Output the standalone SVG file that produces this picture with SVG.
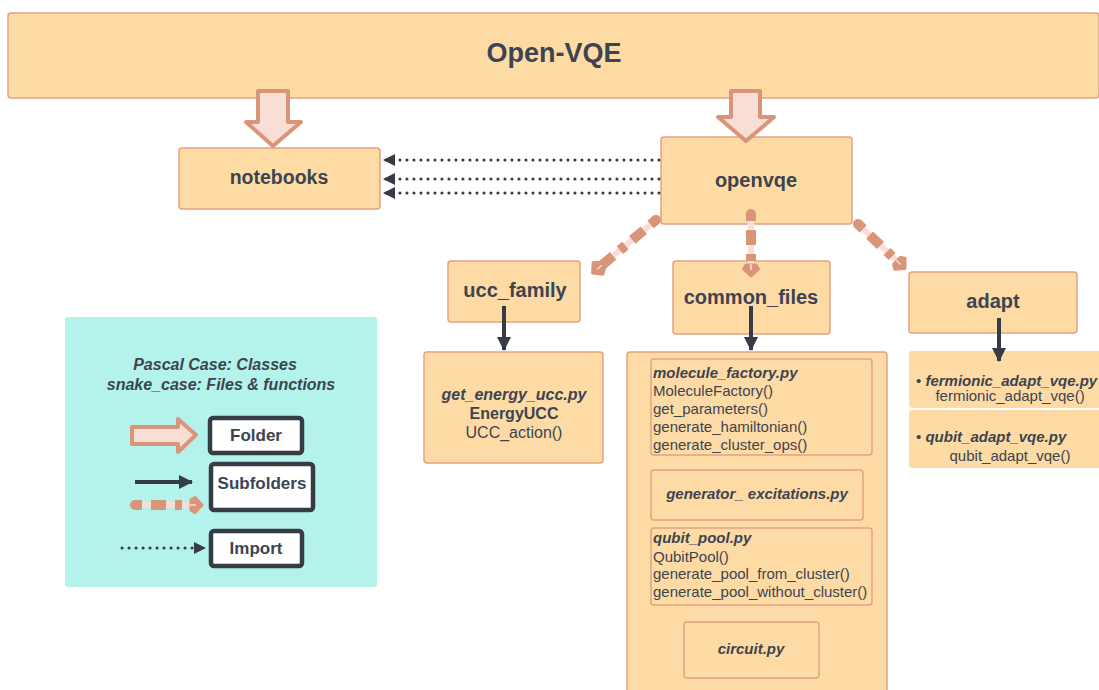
<svg xmlns="http://www.w3.org/2000/svg" width="1099" height="690" viewBox="0 0 1099 690">
<defs>
<style>
.box{fill:#fedba5;stroke:#e2a282;stroke-width:1.5}
.sub{fill:#fedba5;stroke:#e2a282;stroke-width:1.5}
.t{font-family:"Liberation Sans",Arial,sans-serif;fill:#3d4450}
.b{font-weight:bold}
.bi{font-weight:bold;font-style:italic}
.c{text-anchor:middle}
.folder{fill:#f8ded4;stroke:#d9957a;stroke-width:4;stroke-linejoin:round}
.dot{stroke:#363c46;stroke-width:3;stroke-linecap:round;stroke-dasharray:0.1 6.9;fill:none}
.solid{stroke:#363c46;stroke-width:4;fill:none}
.dpink{stroke:#f8ded4;stroke-width:6;fill:none}
.dsal{stroke:#d9957a;stroke-width:10;stroke-dasharray:7 9 15 9;fill:none}
.cap{fill:#d9957a}
.lg{fill:#ffffff;stroke:#363c46;stroke-width:4.5}
</style>
<marker id="ah" markerUnits="userSpaceOnUse" markerWidth="16" markerHeight="14" refX="12" refY="6" orient="auto">
<path d="M0,0 L12,6 L0,12 Z" fill="#363c46"/>
</marker>
<marker id="ahs" markerUnits="userSpaceOnUse" markerWidth="18" markerHeight="16" refX="13" refY="7" orient="auto">
<path d="M0,0 L14,7 L0,14 Z" fill="#363c46"/>
</marker>
<marker id="ahd" markerUnits="userSpaceOnUse" markerWidth="24" markerHeight="24" refX="4" refY="12" orient="auto" overflow="visible">
<path d="M4,7 L8,4.5 L15,12 L8,19.5 L4,17 Z" fill="#d9957a" stroke="#d9957a" stroke-width="3" stroke-linejoin="round"/>
<line x1="3" y1="12" x2="9" y2="12" stroke="#f8ded4" stroke-width="1.5"/>
</marker>
</defs>

<g id="open-vqe">
<rect class="box" x="8" y="13" width="1091" height="85" rx="3"/>
<text class="t b c" x="554" y="62" font-size="27">Open-VQE</text>
</g>

<g id="notebooks">
<rect class="box" x="179" y="148" width="201" height="61" rx="3"/>
<text class="t b c" x="279" y="184" font-size="19.5">notebooks</text>
</g>

<g id="openvqe">
<rect class="box" x="661" y="137" width="191" height="87" rx="3"/>
<text class="t b c" x="756" y="187" font-size="20">openvqe</text>
</g>

<g id="ucc_family">
<rect class="box" x="448" y="261" width="132" height="61" rx="3"/>
<text class="t b c" x="515" y="297" font-size="20">ucc_family</text>
</g>

<g id="common_files">
<rect class="box" x="673" y="261" width="157" height="73" rx="3"/>
<text class="t b c" x="751" y="304" font-size="20">common_files</text>
</g>

<g id="adapt">
<rect class="box" x="909" y="272" width="168" height="61" rx="3"/>
<text class="t b c" x="993" y="308" font-size="20">adapt</text>
</g>

<g id="ucc_content">
<rect class="box" x="424" y="352" width="179" height="111" rx="3"/>
<text class="t bi c" x="514" y="400" font-size="16">get_energy_ucc.py</text>
<text class="t b c" x="514" y="419" font-size="16">EnergyUCC</text>
<text class="t c" x="514" y="438" font-size="16">UCC_action()</text>
</g>

<g id="common_content">
<rect class="box" x="627" y="352" width="260" height="350" rx="3"/>
<g id="molecule_factory">
<rect class="sub" x="651" y="359" width="221" height="96" rx="3"/>
<text class="t bi" x="653" y="378" font-size="15">molecule_factory.py</text>
<text class="t" x="653" y="396" font-size="15">MoleculeFactory()</text>
<text class="t" x="653" y="414" font-size="15">get_parameters()</text>
<text class="t" x="653" y="432" font-size="15">generate_hamiltonian()</text>
<text class="t" x="653" y="450" font-size="15">generate_cluster_ops()</text>
</g>
<g id="generator_excitations">
<rect class="sub" x="651" y="470" width="212" height="50" rx="3"/>
<text class="t bi c" x="757" y="499" font-size="15">generator_ excitations.py</text>
</g>
<g id="qubit_pool">
<rect class="sub" x="651" y="528" width="221" height="77" rx="3"/>
<text class="t bi" x="653" y="543" font-size="15">qubit_pool.py</text>
<text class="t" x="653" y="562" font-size="15">QubitPool()</text>
<text class="t" x="653" y="579" font-size="15">generate_pool_from_cluster()</text>
<text class="t" x="653" y="597" font-size="15">generate_pool_without_cluster()</text>
</g>
<g id="circuit">
<rect class="sub" x="684" y="622" width="135" height="56" rx="3"/>
<text class="t bi c" x="751" y="654" font-size="15">circuit.py</text>
</g>
</g>

<g id="adapt_content">
<g id="fermionic">
<rect x="909" y="351" width="195" height="57" rx="3" fill="#fedba5"/>
<text class="t" x="916" y="386" font-size="15"><tspan>• </tspan><tspan class="bi">fermionic_adapt_vqe.py</tspan></text>
<text class="t c" x="1010" y="401" font-size="15">fermionic_adapt_vqe()</text>
</g>
<g id="qubit_adapt">
<rect x="909" y="410" width="195" height="58" rx="3" fill="#fedba5"/>
<text class="t" x="916" y="442" font-size="15"><tspan>• </tspan><tspan class="bi">qubit_adapt_vqe.py</tspan></text>
<text class="t c" x="1010" y="461" font-size="15">qubit_adapt_vqe()</text>
</g>
</g>

<g id="legend">
<rect x="65" y="317" width="312" height="270" rx="3" fill="#b3f3eb"/>
<text class="t bi c" x="215" y="370" font-size="16">Pascal Case: Classes</text>
<text class="t bi c" x="221" y="390" font-size="16">snake_case: Files &amp; functions</text>
<path class="folder" d="M132,427 L178,427 L178,419 L196,435 L178,452 L178,444 L132,444 Z"/>
<line class="solid" x1="135" y1="482" x2="192" y2="482" marker-end="url(#ahs)"/>
<line class="dpink" x1="135" y1="505" x2="191" y2="505"/>
<line class="dsal" x1="135" y1="505" x2="191" y2="505" marker-end="url(#ahd)"/>
<circle class="cap" cx="135" cy="505" r="5"/>
<line class="dot" x1="122" y1="548" x2="206" y2="548" marker-end="url(#ah)"/>
<rect class="lg" x="210" y="418" width="92" height="35" rx="3"/>
<text class="t b c" x="256" y="441" font-size="17">Folder</text>
<rect class="lg" x="211" y="464" width="102" height="46" rx="3"/>
<text class="t b c" x="262" y="489" font-size="17">Subfolders</text>
<rect class="lg" x="211" y="531" width="91" height="35" rx="3"/>
<text class="t b c" x="256" y="554" font-size="17">Import</text>
</g>

<g id="connectors">
<path class="folder" d="M258,91 L288,91 L288,122 L301,122 L273,146 L246,122 L258,122 Z"/>
<path class="folder" d="M731,91 L760,91 L760,117 L774,117 L746,141 L718,117 L731,117 Z"/>
<line class="dot" x1="659" y1="160" x2="383" y2="160" marker-end="url(#ah)"/>
<line class="dot" x1="659" y1="179" x2="383" y2="179" marker-end="url(#ah)"/>
<line class="dot" x1="659" y1="193" x2="383" y2="193" marker-end="url(#ah)"/>
<line class="dpink" x1="656" y1="220" x2="601" y2="266"/>
<line class="dsal" x1="656" y1="220" x2="601" y2="266" marker-end="url(#ahd)"/>
<circle class="cap" cx="656" cy="220" r="5"/>
<line class="dpink" x1="751" y1="214" x2="751" y2="265"/>
<line class="dsal" x1="751" y1="214" x2="751" y2="265" marker-end="url(#ahd)"/>
<circle class="cap" cx="751" cy="214" r="5"/>
<line class="dpink" x1="858" y1="224" x2="897" y2="261"/>
<line class="dsal" x1="858" y1="224" x2="897" y2="261" marker-end="url(#ahd)"/>
<circle class="cap" cx="858" cy="224" r="5"/>
<line class="solid" x1="504" y1="306" x2="504" y2="350" marker-end="url(#ahs)"/>
<line class="solid" x1="751" y1="306" x2="751" y2="350" marker-end="url(#ahs)"/>
<line class="solid" x1="999" y1="318" x2="999" y2="361" marker-end="url(#ahs)"/>
</g>
</svg>
